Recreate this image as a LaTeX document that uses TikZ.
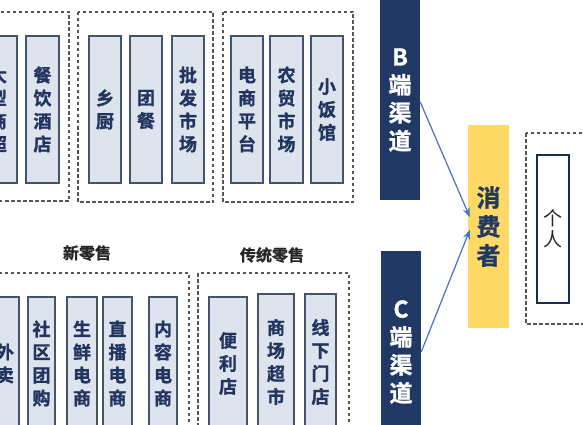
\documentclass[tikz,border=0pt]{standalone}
\usepackage{fontspec}
\newfontfamily\cjk{Noto Sans CJK SC}[BoldFont={Noto Sans CJK SC Bold},BoldFeatures={FakeBold=1.2}]
\usetikzlibrary{arrows.meta}
\definecolor{navy}{HTML}{1F3864}
\definecolor{boxfill}{HTML}{DEE4EE}
\definecolor{boxline}{HTML}{44546A}
\definecolor{txt}{HTML}{223560}
\definecolor{yel}{HTML}{FFD966}
\definecolor{arr}{HTML}{4472C4}
\definecolor{grpline}{HTML}{555555}
\tikzset{
  tbox/.style={draw=boxline, line width=1.1pt, fill=boxfill, inner sep=0pt,
    align=center, text=txt, font=\cjk\bfseries\fontsize{18}{23}\selectfont},
  grp/.style={draw=grpline, line width=1.1pt, dash pattern=on 3.5pt off 2.5pt},
  chan/.style={fill=navy, inner sep=0pt, align=center, text=white,
    font=\cjk\bfseries\fontsize{23}{28}\selectfont},
  cons/.style={fill=yel, inner sep=0pt, align=center, text=navy,
    font=\cjk\bfseries\fontsize{24}{29}\selectfont},
  pbox/.style={draw=navy!80!black, line width=1.1pt, fill=white, inner sep=0pt,
    align=center, text=black!85, font=\cjk\fontsize{19}{21}\selectfont},
  lbl/.style={inner sep=0pt, text=black!85, font=\cjk\bfseries\fontsize{16}{18}\selectfont},
  link/.style={draw=arr, line width=1.2pt, -{Stealth[length=9pt,width=7pt]}}
}
\begin{document}
\begin{tikzpicture}[x=1pt,y=-1pt]
\useasboundingbox (0,0) rectangle (583,425);
\clip (0,0) rectangle (583,425);
\fill[white] (0,0) rectangle (583,425);
% top groups
\draw[grp] (-10,12) rectangle (69,201);
\draw[grp] (78,12) rectangle (213,202);
\draw[grp] (223,12) rectangle (353,202);
\node[tbox, minimum width=38, minimum height=147] (dx) at (-2,109.5) {大\\型\\商\\超};
\node[tbox, minimum width=33, minimum height=147] (cy) at (42.5,109.5) {餐\\饮\\酒\\店};
\node[tbox, minimum width=32, minimum height=147] (xc) at (105,109.5) {乡\\厨};
\node[tbox, minimum width=32, minimum height=147] (tc) at (146,109.5) {团\\餐};
\node[tbox, minimum width=32, minimum height=147] (pf) at (188,109.5) {批\\发\\市\\场};
\node[tbox, minimum width=32, minimum height=147] (ds) at (247,109.5) {电\\商\\平\\台};
\node[tbox, minimum width=33, minimum height=147] (nm) at (286.5,109.5) {农\\贸\\市\\场};
\node[tbox, minimum width=32, minimum height=147] (xf) at (327,109.5) {小\\饭\\馆};
% bottom groups
\node[lbl] (lx) at (87,253) {新零售};
\node[lbl] (lc) at (272,255) {传统零售};
\draw[grp] (-10,273) rectangle (189,440);
\draw[grp] (198,273) rectangle (349,440);
\node[tbox, minimum width=28, minimum height=133] (wm) at (5,363.5) {外\\卖};
\node[tbox, minimum width=27, minimum height=133] (sq) at (41.5,363.5) {社\\区\\团\\购};
\node[tbox, minimum width=30, minimum height=133] (sx) at (82,363.5) {生\\鲜\\电\\商};
\node[tbox, minimum width=29, minimum height=133] (zb) at (117.5,363.5) {直\\播\\电\\商};
\node[tbox, minimum width=28, minimum height=133] (nr) at (163,363.5) {内\\容\\电\\商};
\node[tbox, minimum width=38, minimum height=133] (bl) at (228,363.5) {便\\利\\店};
\node[tbox, minimum width=36, minimum height=136] (sc) at (276,362) {商\\场\\超\\市};
\node[tbox, minimum width=31, minimum height=136] (xx) at (320.5,362) {线\\下\\门\\店};
% channels
\node[chan, minimum width=40, minimum height=200] (B) at (400,100) {B\\端\\渠\\道};
\node[chan, minimum width=40, minimum height=202] (C) at (401,352) {C\\端\\渠\\道};
\node[cons, minimum width=41, minimum height=203] (Y) at (488.5,226.5) {消\\费\\者};
% right
\draw[grp] (526,133) rectangle (600,324);
\node[pbox, minimum width=32, minimum height=148] (gr) at (553,229) {个\\人};
% arrows
\draw[link] ([yshift=-2pt]B.east) -- ([xshift=2pt,yshift=9.5pt]Y.west);
\draw[link] (C.east) -- ([xshift=2pt,yshift=-3.5pt]Y.west);
\end{tikzpicture}
\end{document}
